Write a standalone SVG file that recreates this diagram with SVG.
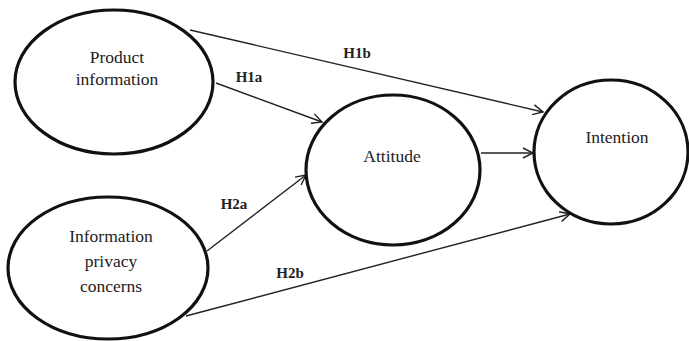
<svg xmlns="http://www.w3.org/2000/svg" width="689" height="341" viewBox="0 0 689 341">
<style>
.node{fill:#fff;stroke:#111;stroke-width:3.2}
.lbl{font-family:"Liberation Serif",serif;font-size:17.5px;fill:#222;text-anchor:middle}
.h{font-family:"Liberation Serif",serif;font-size:15px;font-weight:bold;fill:#222;text-anchor:middle}
.edge{stroke:#222;stroke-width:1.4;fill:none;marker-end:url(#arr)}
</style>
<defs>
<marker id="arr" viewBox="0 0 12 12" refX="11" refY="6" markerWidth="12" markerHeight="12" markerUnits="userSpaceOnUse" orient="auto">
<path d="M1,1 L11,6 L1,11" fill="none" stroke="#222" stroke-width="1.4"/>
</marker>
</defs>
<rect width="689" height="341" fill="#fff"/>
<g id="connectors">
<line class="edge" x1="190" y1="30" x2="543" y2="112"/>
<line class="edge" x1="216" y1="83" x2="322" y2="122"/>
<line class="edge" x1="207" y1="251" x2="306" y2="175"/>
<line class="edge" x1="186" y1="316" x2="570" y2="214"/>
<line class="edge" x1="481" y1="153" x2="533" y2="153"/>
</g>
<g id="product">
<ellipse class="node" cx="114" cy="82" rx="99" ry="72"/>
<text class="lbl" x="117" y="63">Product</text>
<text class="lbl" x="117" y="85">information</text>
</g>
<g id="privacy">
<ellipse class="node" cx="108" cy="268" rx="100" ry="71"/>
<text class="lbl" x="111" y="242">Information</text>
<text class="lbl" x="111" y="267">privacy</text>
<text class="lbl" x="111" y="292">concerns</text>
</g>
<g id="attitude">
<ellipse class="node" cx="393" cy="170" rx="87" ry="75"/>
<text class="lbl" x="392" y="162">Attitude</text>
</g>
<g id="intention">
<ellipse class="node" cx="611" cy="152" rx="77" ry="72"/>
<text class="lbl" x="617" y="143">Intention</text>
</g>
<g id="labels">
<text class="h" x="357" y="58">H1b</text>
<text class="h" x="249" y="82">H1a</text>
<text class="h" x="234" y="209">H2a</text>
<text class="h" x="290" y="278">H2b</text>
</g>
</svg>
